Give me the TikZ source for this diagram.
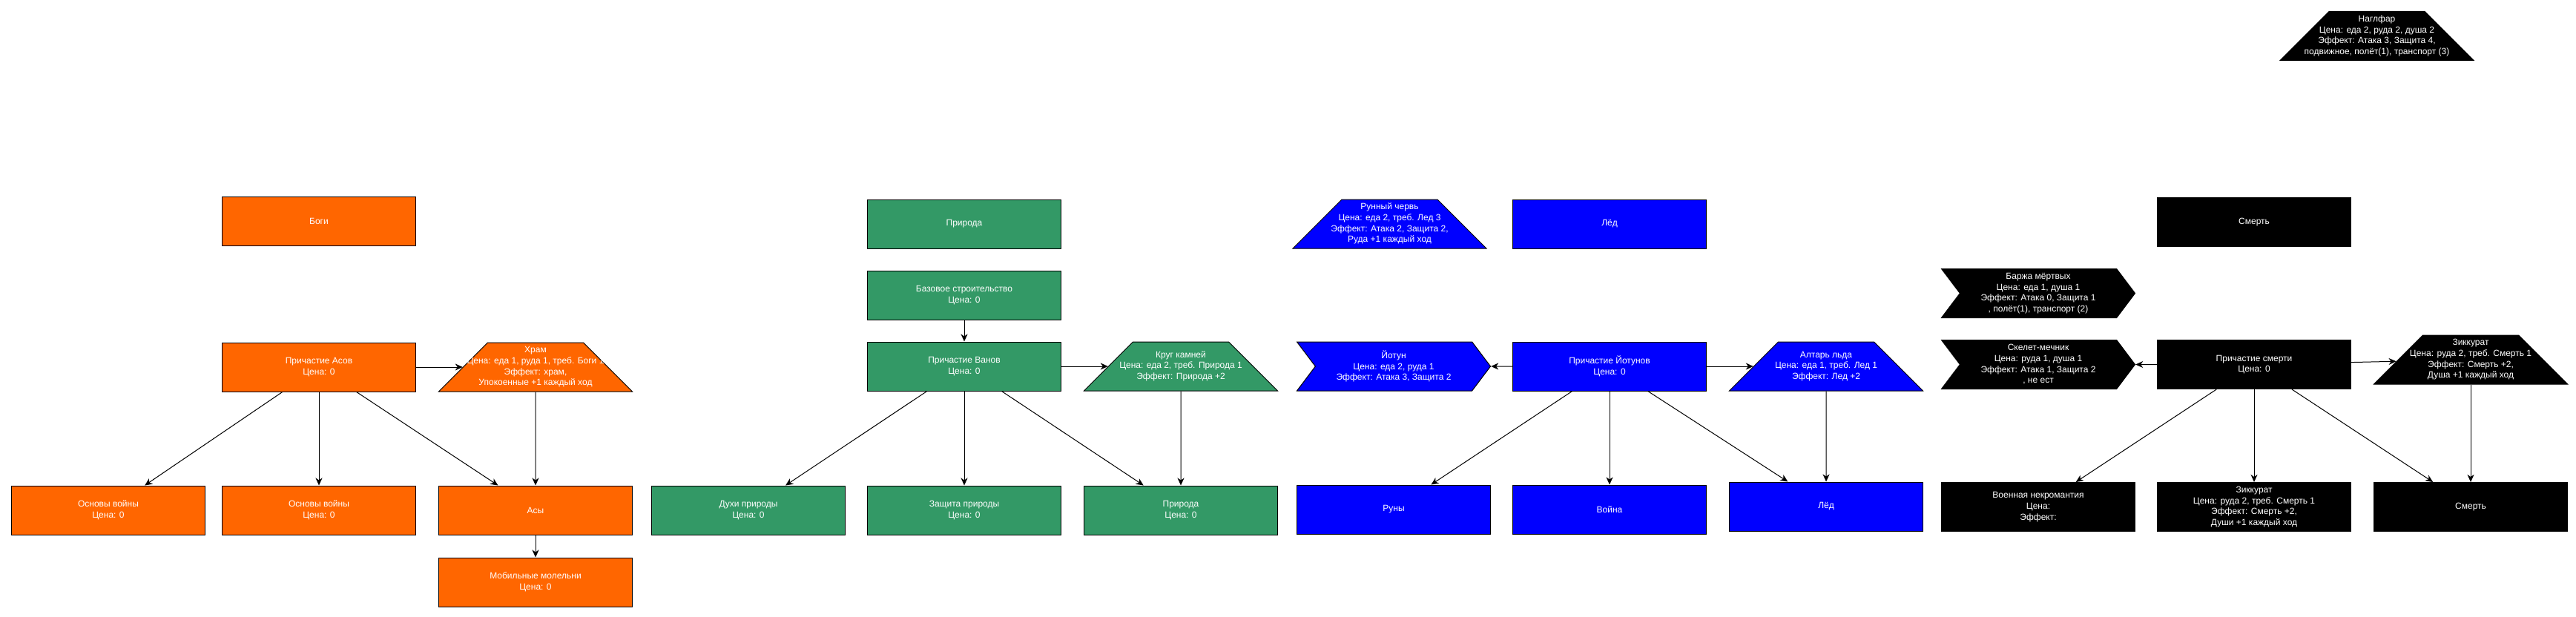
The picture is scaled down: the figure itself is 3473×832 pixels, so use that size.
\documentclass[tikz,border=0pt]{standalone}
\usepackage{fontspec}
\setmainfont{Liberation Sans}
\usetikzlibrary{shapes.geometric,shapes.symbols,arrows.meta}
\definecolor{cOr}{HTML}{FF6600}
\definecolor{cGr}{HTML}{339966}
\definecolor{cBl}{HTML}{0000FF}
\definecolor{cBk}{HTML}{000000}
\newcommand{\tz}[1]{\vbox to 66pt{\vss\hbox to 129pt{\hss\begin{tabular}{@{}c@{}}#1\end{tabular}\hss}\vss}}
\begin{document}
\begin{tikzpicture}[x=1pt,y=-1pt,
  base/.style={draw=black, line width=1pt, text=white, font=\fontsize{12}{14.7}\selectfont, align=center, inner sep=2pt, minimum width=261pt, minimum height=66pt},
  box/.style={base, rectangle},
  trap/.style={base, trapezium, trapezium left angle=45, trapezium right angle=45, minimum width=0pt, minimum height=0pt, inner sep=0pt},
  chev/.style={base, signal, signal to=east, signal from=west, signal pointer angle=106},
  edge/.style={draw=black, line width=1pt, -{Stealth[length=10pt,width=9pt,inset=3pt]}},
]
\fill[white] (0,0) rectangle (3473,832);
\useasboundingbox (0,0) rectangle (3473,832);

% orange
\node[box, fill=cOr] (bogi) at (430,298.5) {Боги};
\node[box, fill=cOr] (pa) at (430,495) {Причастие Асов\\Цена: 0};
\node[trap, fill=cOr] (khram) at (722,495) {\tz{Храм\\Цена: еда 1, руда 1, треб. Боги 1\\Эффект: храм,\\Упокоенные +1 каждый ход}};
\node[box, fill=cOr] (osn1) at (146,688) {Основы войны\\Цена: 0};
\node[box, fill=cOr] (osn2) at (430,688) {Основы войны\\Цена: 0};
\node[box, fill=cOr] (asy) at (722,688) {Асы};
\node[box, fill=cOr] (mob) at (722,785) {Мобильные молельни\\Цена: 0};

% green
\node[box, fill=cGr] (prir1) at (1300,302) {Природа};
\node[box, fill=cGr] (baz) at (1300,398) {Базовое строительство\\Цена: 0};
\node[box, fill=cGr] (pv) at (1300,494) {Причастие Ванов\\Цена: 0};
\node[trap, fill=cGr] (krug) at (1592,494) {\tz{Круг камней\\Цена: еда 2, треб. Природа 1\\Эффект: Природа +2}};
\node[box, fill=cGr] (duhi) at (1009,688) {Духи природы\\Цена: 0};
\node[box, fill=cGr] (zash) at (1300,688) {Защита природы\\Цена: 0};
\node[box, fill=cGr] (prir2) at (1592,688) {Природа\\Цена: 0};

% blue
\node[trap, fill=cBl] (runch) at (1873.5,302) {\tz{Рунный червь\\Цена: еда 2, треб. Лед 3\\Эффект: Атака 2, Защита 2,\\Руда +1 каждый ход}};
\node[box, fill=cBl] (led1) at (2170,302) {Лёд};
\node[chev, fill=cBl] (yotun) at (1879,494) {Йотун\\Цена: еда 2, руда 1\\Эффект: Атака 3, Защита 2};
\node[box, fill=cBl] (pj) at (2170,494) {Причастие Йотунов\\Цена: 0};
\node[trap, fill=cBl] (altar) at (2462,494) {\tz{Алтарь льда\\Цена: еда 1, треб. Лед 1\\Эффект: Лед +2}};
\node[box, fill=cBl] (runy) at (1879,687) {Руны};
\node[box, fill=cBl] (voina) at (2170,687) {Война};
\node[box, fill=cBl] (led2) at (2462,683) {Лёд};

% black
\node[trap, fill=cBk] (nagl) at (3204.5,48.5) {\tz{Наглфар\\Цена: еда 2, руда 2, душа 2\\Эффект: Атака 3, Защита 4,\\подвижное, полёт(1), транспорт (3)}};
\node[box, fill=cBk] (smert1) at (3039,299.5) {Смерть};
\node[chev, fill=cBk] (barzha) at (2748,395.5) {Баржа мёртвых\\Цена: еда 1, душа 1\\Эффект: Атака 0, Защита 1\\, полёт(1), транспорт (2)};
\node[chev, fill=cBk] (skelet) at (2748,491.5) {Скелет-мечник\\Цена: руда 1, душа 1\\Эффект: Атака 1, Защита 2\\, не ест};
\node[box, fill=cBk] (ps) at (3039,491.5) {Причастие смерти\\Цена: 0};
\node[trap, fill=cBk] (zikk) at (3331,485) {\tz{Зиккурат\\Цена: руда 2, треб. Смерть 1\\Эффект: Смерть +2,\\Душа +1 каждый ход}};
\node[box, fill=cBk] (voen) at (2748,683.5) {Военная некромантия\\Цена:\\Эффект:};
\node[box, fill=cBk] (zikk2) at (3039,683.5) {Зиккурат\\Цена: руда 2, треб. Смерть 1\\Эффект: Смерть +2,\\Души +1 каждый ход};
\node[box, fill=cBk] (smert2) at (3331,683.5) {Смерть};

% edges
\draw[edge] (pa) -- (khram);
\draw[edge] (pa) -- (osn1);
\draw[edge] (pa) -- (osn2);
\draw[edge] (pa) -- (asy);
\draw[edge] (khram) -- (asy);
\draw[edge] (asy) -- (mob);

\draw[edge] (baz) -- (pv);
\draw[edge] (pv) -- (krug);
\draw[edge] (pv) -- (duhi);
\draw[edge] (pv) -- (zash);
\draw[edge] (pv) -- (prir2);
\draw[edge] (krug) -- (prir2);

\draw[edge] (pj) -- (yotun);
\draw[edge] (pj) -- (altar);
\draw[edge] (pj) -- (runy);
\draw[edge] (pj) -- (voina);
\draw[edge] (pj) -- (led2);
\draw[edge] (altar) -- (led2);

\draw[edge] (ps) -- (skelet);
\draw[edge] (ps) -- (zikk);
\draw[edge] (ps) -- (voen);
\draw[edge] (ps) -- (zikk2);
\draw[edge] (ps) -- (smert2);
\draw[edge] (zikk) -- (smert2);
\end{tikzpicture}
\end{document}
